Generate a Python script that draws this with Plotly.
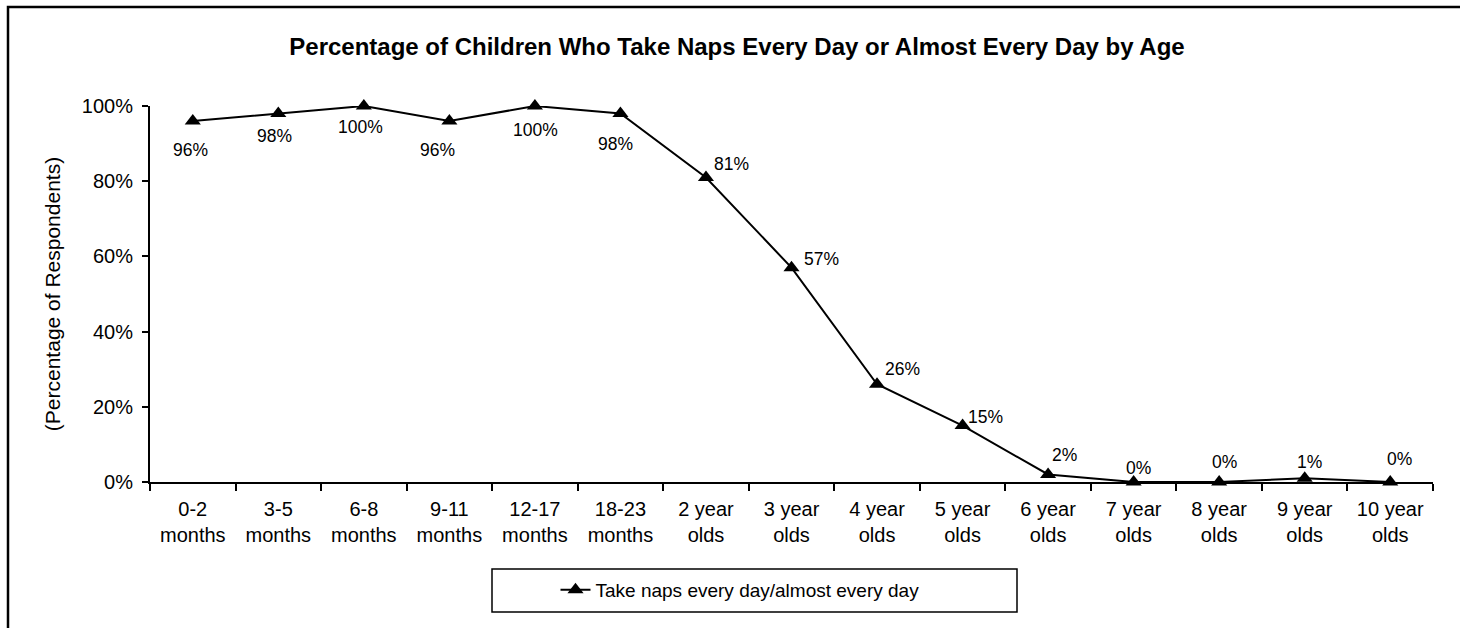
import plotly.graph_objects as go

categories = ["0-2<br>months", "3-5<br>months", "6-8<br>months", "9-11<br>months",
              "12-17<br>months", "18-23<br>months", "2 year<br>olds", "3 year<br>olds",
              "4 year<br>olds", "5 year<br>olds", "6 year<br>olds", "7 year<br>olds",
              "8 year<br>olds", "9 year<br>olds", "10 year<br>olds"]
values = [96, 98, 100, 96, 100, 98, 81, 57, 26, 15, 2, 0, 0, 1, 0]
series_name = "Take naps every day/almost every day"

# pixel offsets of data labels relative to their points (style only)
label_dx = [-2, -4, -3, -12, 1, -5, 26, 30, 25, 23, 16, 5, 5, 5, 9]
label_dy = [-29, -22, -21, -29, -24, -30, 13, 9, 15, 9, 19, 14, 20, 16, 23]

FONT = "Liberation Sans, Arial, sans-serif"

fig = go.Figure()
fig.add_trace(go.Scatter(
    x=categories, y=values, mode="lines+markers",
    name=series_name,
    line=dict(color="black", width=2),
    marker=dict(symbol="triangle-up", size=14, color="black"),
    cliponaxis=False,
))

annotations = []
for c, v, dx, dy in zip(categories, values, label_dx, label_dy):
    annotations.append(dict(
        x=c, y=v, xref="x", yref="y", text=f"{v}%", showarrow=False,
        xanchor="center", yanchor="middle", xshift=dx, yshift=dy,
        font=dict(family=FONT, size=17.5, color="black"),
    ))

L, R, T, B = 150, 27, 106, 146
W, H = 1460, 628
pw = W - L - R
ph = H - T - B

def px(x):
    return (x - L) / pw

def py(y):
    return (H - B - y) / ph

fig.update_layout(
    width=W, height=H,
    margin=dict(l=L, r=R, t=T, b=B),
    paper_bgcolor="white", plot_bgcolor="white",
    font=dict(family=FONT, color="black"),
    title=dict(text="<b>Percentage of Children Who Take Naps Every Day or Almost Every Day by Age</b>",
               x=px(737), xanchor="center", xref="paper", y=1 - 47 / H, yanchor="middle",
               font=dict(size=24, family=FONT, color="black")),
    showlegend=True,
    legend=dict(orientation="h", x=px(740), xanchor="center", y=py(590), yanchor="middle",
                font=dict(size=19, family=FONT, color="black"),
                bgcolor="rgba(0,0,0,0)", borderwidth=0),
    xaxis=dict(type="category", showgrid=False, showline=True, linecolor="black", linewidth=2,
               ticks="outside", tickson="boundaries", ticklen=7, tickcolor="black", tickwidth=2,
               ticklabelstandoff=8,
               tickfont=dict(size=20, family=FONT, color="black"),
               range=[-0.5, len(categories) - 0.5]),
    yaxis=dict(range=[0, 100], dtick=20, ticksuffix="%", showgrid=False, showline=True,
               linecolor="black", linewidth=2, ticks="outside", ticklen=6, tickcolor="black",
               tickwidth=2, zeroline=False, ticklabelstandoff=5,
               tickfont=dict(size=20, family=FONT, color="black"),
               title=dict(text="(Percentage of Respondents)", standoff=15,
                          font=dict(size=21, family=FONT, color="black"))),
    annotations=annotations,
    shapes=[
        dict(type="rect", xref="paper", yref="paper",
             x0=px(492), x1=px(1017), y0=py(612), y1=py(569),
             line=dict(color="black", width=1.5)),
        dict(type="rect", xref="paper", yref="paper",
             x0=px(8), x1=px(1500), y0=py(700), y1=py(7),
             line=dict(color="black", width=2.5)),
    ],
)

fig.write_html("out.html")
